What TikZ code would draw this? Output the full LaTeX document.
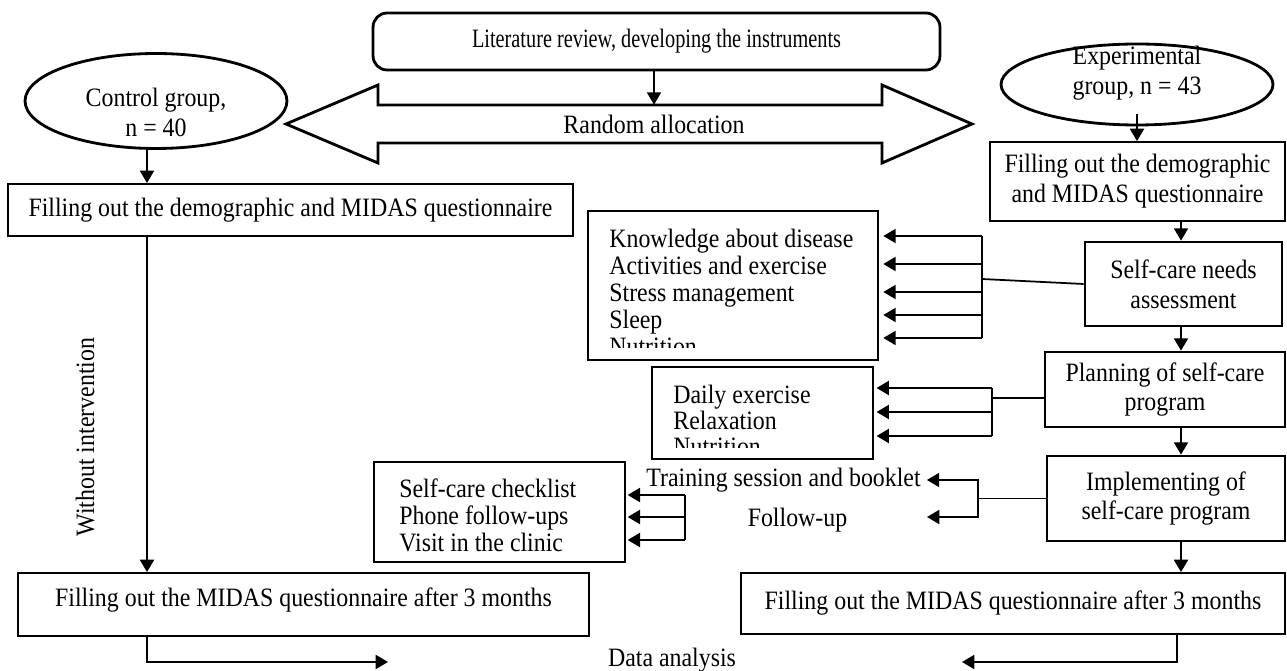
\documentclass[tikz,border=0pt]{standalone}
\usepackage{graphicx}
\usepackage{fontspec}
\setmainfont{Liberation Serif}[FakeStretch=0.9]
\usetikzlibrary{arrows.meta,positioning,calc,shapes.geometric}

\begin{document}
\begin{tikzpicture}[
    x=0.02cm, y=-0.02cm,
    font=\fontsize{15.1}{17}\selectfont,
    stage/.style={draw, line width=1.1pt, align=center, inner sep=0pt},
    keystage/.style={stage, line width=1.6pt},
    group/.style={ellipse, draw, line width=1.6pt, inner sep=0pt},
    listbox/.style={draw, line width=1.1pt, inner sep=0pt},
    listtext/.style={align=left, inner sep=0pt},
    conn/.style={line width=1pt, -{Triangle[length=7pt,width=8pt]}},
    link/.style={line width=1pt}
]
    \useasboundingbox (0,0) rectangle (1287,671);

    % Start
    \node[stage, rounded corners=8pt, line width=1.6pt, minimum width=11.34cm, minimum height=1.14cm] (lit) at (656.5,41.5)
        {\scalebox{0.85}[1]{Literature review, developing the instruments}};
    \draw[line width=1.6pt, line join=miter] (286,124) -- (378,85) -- (378,105) -- (882,105) -- (882,85) -- (972,124)
        -- (882,163) -- (882,143) -- (378,143) -- (378,163) -- cycle;
    \node[minimum height=0.76cm, inner sep=0pt] (alloc) at (654,124) {Random allocation};
    \draw[conn] (lit.south -| alloc.north) -- (alloc.north);

    % Control group
    \coordinate (lcol) at (147,0);
    \node[group, minimum width=5.24cm, minimum height=1.9cm] (ctrl) at (156,101) {};
    \node[align=center] (ctrltext) at (156,112) {Control group,\\n = 40};
    \node[stage, minimum width=11.3cm, minimum height=1.04cm] (ldemo) at (290.5,210)
        {Filling out the demographic and MIDAS questionnaire};
    \node[stage, minimum width=11.42cm, minimum height=1.26cm, text depth=0.3cm] (lpost) at (303.5,604.5)
        {Filling out the MIDAS questionnaire after 3 months};
    \node[rotate=90] (noint) at (85,437) {Without intervention};
    \draw[conn] (ctrl.south -| lcol) -- (ldemo.north -| lcol);
    \draw[conn] (ldemo.south -| lcol) -- (lpost.north -| lcol);

    % Experimental group
    \coordinate (rcol) at (1181,0);
    \node[group, minimum width=5.44cm, minimum height=1.62cm] (exp) at (1137,84.5) {};
    \node[align=center] (exptext) at (1137,73.5) {Experimental\\group, n = 43};
    \node[stage, minimum width=5.9cm, minimum height=1.58cm] (rdemo) at (1137.5,181.5)
        {Filling out the demographic\\and MIDAS questionnaire};
    \node[keystage, minimum width=3.94cm, minimum height=1.68cm] (care) at (1183.5,284) {Self-care needs\\assessment};
    \node[keystage, minimum width=4.8cm, minimum height=1.5cm] (plan) at (1165,389.5) {Planning of self-care\\program};
    \node[keystage, minimum width=4.76cm, minimum height=1.7cm] (impl) at (1166,498.5) {Implementing of\\self-care program};
    \node[stage, minimum width=10.88cm, minimum height=1.22cm] (rpost) at (1013,603.5)
        {Filling out the MIDAS questionnaire after 3 months};
    \draw[conn] ([yshift=7pt]exp.south) -- (rdemo.north -| exp.south);
    \draw[conn] (rdemo.south -| rcol) -- (care.north -| rcol);
    \draw[conn] (care.south -| rcol) -- (plan.north -| rcol);
    \draw[conn] (plan.south -| rcol) -- (impl.north -| rcol);
    \draw[conn] (impl.south -| rcol) -- (rpost.north -| rcol);

    % Needs
    \node[listbox, minimum width=5.8cm, minimum height=2.98cm] (needs) at (733,285.5) {};
    \begin{scope}
        \clip (588,211) rectangle (878,348);
        \node[listtext, font=\fontsize{15.1}{15.3}\selectfont, anchor=north west] (needslist) at (609,229)
            {Knowledge about disease\\Activities and exercise\\Stress management\\Sleep\\Nutrition};
    \end{scope}
    \coordinate (needsbr) at (982,0);
    \foreach \yy in {236,264,292,315,338}
        \draw[conn, shorten >=2.5pt] (needsbr |- 0,\yy) -- (needs.east |- 0,\yy);
    \draw[link] (needsbr |- 0,236) -- (needsbr |- 0,338);
    \draw[link] (care.west) -- (needsbr |- 0,279);

    % Program
    \node[listbox, minimum width=4.42cm, minimum height=1.84cm] (tasks) at (762.5,413) {};
    \begin{scope}
        \clip (652,367) rectangle (873,448);
        \node[listtext, font=\fontsize{15.1}{14.8}\selectfont, anchor=north west] (taskslist) at (673,385)
            {Daily exercise\\Relaxation\\Nutrition};
    \end{scope}
    \coordinate (tasksbr) at (992,0);
    \foreach \yy in {388,412,436}
        \draw[conn, shorten >=1.5pt] (tasksbr |- 0,\yy) -- (tasks.east |- 0,\yy);
    \draw[link] (tasksbr |- 0,388) -- (tasksbr |- 0,436);
    \draw[link] (tasksbr |- 0,398) -- (plan.west |- 0,398);

    % Follow-up
    \node[listbox, minimum width=5.02cm, minimum height=2cm] (checks) at (499.5,512) {};
    \node[listtext, font=\fontsize{15.1}{15.6}\selectfont, anchor=north west] (checkslist) at (399,478)
        {Self-care checklist\\Phone follow-ups\\Visit in the clinic};
    \coordinate (checksbr) at (685,0);
    \foreach \yy in {495,517,540}
        \draw[conn, shorten >=1pt] (checksbr |- 0,\yy) -- (checks.east |- 0,\yy);
    \draw[link] (checksbr |- 0,495) -- (checksbr |- 0,540);

    \node (train) at (783.5,480) {Training session and booklet};
    \node (fup) at (797.5,520) {Follow-up};
    \coordinate (implbr) at (978,0);
    \coordinate (fuptip) at (927,517);
    \draw[link] (impl.west) -- (impl.west -| implbr);
    \draw[conn] (impl.west -| implbr) |- (train.east);
    \draw[conn] (impl.west -| implbr) |- (fuptip);

    % End
    \node (data) at (672,660) {Data analysis};
    \coordinate (dl) at (388,662);
    \coordinate (dr) at (962,662);
    \coordinate (rcolb) at (1177,0);
    \draw[conn] (lpost.south -| lcol) |- (dl);
    \draw[conn] (rpost.south -| rcolb) |- (dr);
\end{tikzpicture}
\end{document}
